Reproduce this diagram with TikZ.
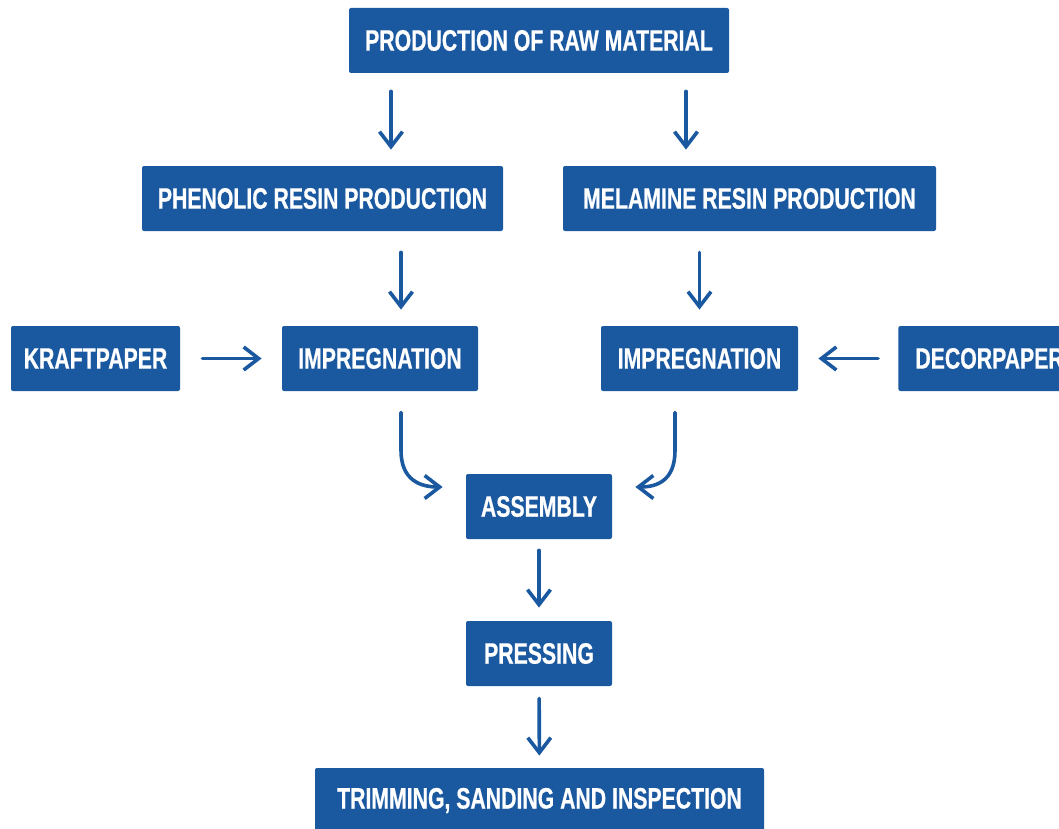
\documentclass[tikz,border=0pt]{standalone}
\usepackage{xcolor}
\usepackage{tikz}
\usepackage{fontspec}
\setmainfont[FakeStretch=0.72, FakeBold=0.6]{Liberation Sans}
\usetikzlibrary{positioning,calc,arrows.meta}
\definecolor{boxblue}{RGB}{26,88,160}

\begin{document}
\begin{tikzpicture}[x=0.5pt, y=-0.5pt,
    stage/.style={fill=boxblue, text=white, rounded corners=1pt, minimum height=32.5pt,
        inner sep=0pt, font=\fontsize{14.75pt}{16pt}\selectfont\bfseries},
    flow/.style={draw=boxblue, line width=1.8pt, line cap=round,
        -{Straight Barb[length=7.5pt, width=11.5pt, line width=1.8pt]}}]
    \useasboundingbox (0,0) rectangle (1059,829);

    % Boxes
    \node[stage, minimum width=190pt] (raw) at (539,40.5) {PRODUCTION OF RAW MATERIAL};
    \node[stage, minimum width=180.5pt] (phen) at (322.5,198.5) {PHENOLIC RESIN PRODUCTION};
    \node[stage, minimum width=186.5pt] (mel) at (749.5,198.5) {MELAMINE RESIN PRODUCTION};
    \node[stage, minimum width=84.5pt] (kraft) at (95.5,358.5) {KRAFTPAPER};
    \node[stage, minimum width=98pt] (impL) at (380,358.5) {IMPREGNATION};
    \node[stage, minimum width=98.5pt] (impR) at (699.5,358.5) {IMPREGNATION};
    \node[stage, anchor=west, inner xsep=8.5pt] (decor) at (898,358.5) {DECORPAPER};
    \node[stage, minimum width=73pt] (assembly) at (539,506.5) {ASSEMBLY};
    \node[stage, minimum width=73pt] (pressing) at (539,653.5) {PRESSING};
    \node[stage, minimum width=224.5pt] (trim) at (539.5,800.5) {TRIMMING, SANDING AND INSPECTION};

    % Arrows
    \draw[flow, shorten <=9pt, shorten >=8pt] ([xshift=-74pt]raw.south) -- ([xshift=-74pt]raw.south |- phen.north);
    \draw[flow, shorten <=9pt, shorten >=8pt] ([xshift=73.5pt]raw.south) -- ([xshift=73.5pt]raw.south |- mel.north);
    \draw[flow, shorten <=10.5pt, shorten >=8pt] ([xshift=10.5pt]impL.north |- phen.south) -- ([xshift=10.5pt]impL.north);
    \draw[flow, shorten <=10.5pt, shorten >=8pt] (mel.south -| impR.north) -- (impR.north);
    \draw[flow, shorten <=11pt, shorten >=10pt] (kraft) -- (impL);
    \draw[flow, shorten <=10pt, shorten >=10pt] (decor.west) -- (impR.east);
    \draw[flow] ([shift={(21,21)}]impL.south) -- ++(0,38)
        .. controls ++(0,30) and ([shift={(-45,-19.5)}]assembly.west) .. ([shift={(-23,-19.5)}]assembly.west);
    \draw[flow] ([shift={(-24.5,21)}]impR.south) -- ++(0,38)
        .. controls ++(0,30) and ([shift={(45,-19.5)}]assembly.east) .. ([shift={(23,-19.5)}]assembly.east);
    \draw[flow, shorten <=5.5pt, shorten >=6.5pt] (assembly) -- (pressing);
    \draw[flow, shorten <=6pt, shorten >=6pt] (pressing) -- (trim);
\end{tikzpicture}
\end{document}
